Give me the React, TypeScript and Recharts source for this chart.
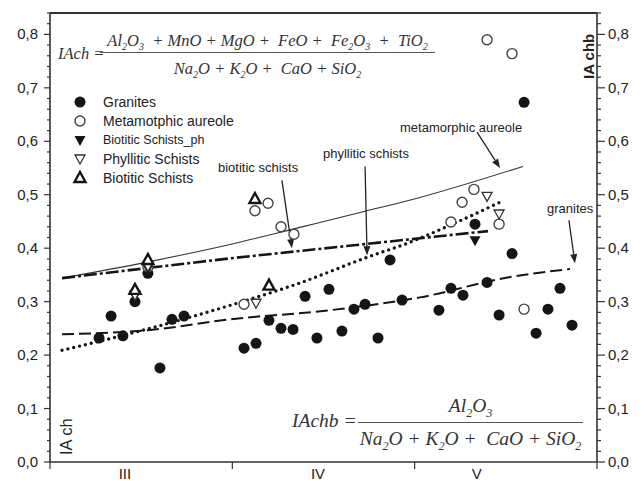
import React from "react"
import {
  ComposedChart,
  Scatter,
  Line,
  XAxis,
  YAxis,
  ReferenceLine,
} from "recharts"

// x: sample position, 0–10 = III, 10–20 = IV, 20–30 = V
const granites = [
  { x: 2.69, y: 0.232 }, { x: 3.35, y: 0.273 }, { x: 4.0, y: 0.236 }, { x: 4.66, y: 0.3 },
  { x: 5.37, y: 0.353 }, { x: 6.03, y: 0.176 }, { x: 6.69, y: 0.267 }, { x: 7.35, y: 0.273 },
  { x: 10.64, y: 0.213 }, { x: 11.3, y: 0.222 }, { x: 12.01, y: 0.265 }, { x: 12.67, y: 0.25 },
  { x: 13.33, y: 0.248 }, { x: 13.99, y: 0.31 }, { x: 14.64, y: 0.232 }, { x: 15.3, y: 0.323 },
  { x: 16.01, y: 0.245 }, { x: 16.67, y: 0.286 }, { x: 17.28, y: 0.295 }, { x: 17.99, y: 0.232 },
  { x: 18.65, y: 0.378 }, { x: 19.31, y: 0.303 }, { x: 21.33, y: 0.284 }, { x: 21.99, y: 0.325 },
  { x: 22.65, y: 0.312 }, { x: 23.31, y: 0.445 }, { x: 23.97, y: 0.336 }, { x: 24.63, y: 0.275 },
  { x: 25.34, y: 0.39 }, { x: 26.0, y: 0.673 }, { x: 26.66, y: 0.241 }, { x: 27.31, y: 0.286 },
  { x: 27.97, y: 0.325 }, { x: 28.63, y: 0.256 },
]
const aureole = [
  { x: 5.37, y: 0.365 }, { x: 10.64, y: 0.295 }, { x: 11.24, y: 0.47 }, { x: 11.96, y: 0.484 },
  { x: 12.67, y: 0.44 }, { x: 13.38, y: 0.426 }, { x: 21.99, y: 0.449 }, { x: 22.6, y: 0.486 },
  { x: 23.25, y: 0.51 }, { x: 24.63, y: 0.445 }, { x: 23.97, y: 0.79 }, { x: 25.34, y: 0.764 },
  { x: 26.0, y: 0.286 },
]
const schistsPh = [
  { x: 4.66, y: 0.31 }, { x: 5.37, y: 0.362 }, { x: 23.31, y: 0.415 },
]
const phyllitic = [
  { x: 4.66, y: 0.312 }, { x: 5.37, y: 0.366 }, { x: 11.3, y: 0.297 },
  { x: 23.97, y: 0.497 }, { x: 24.63, y: 0.464 },
]
const biotitic = [
  { x: 4.66, y: 0.322 }, { x: 5.37, y: 0.378 }, { x: 11.24, y: 0.492 }, { x: 12.01, y: 0.33 },
]

// trend lines
const aureoleTrend = [
  { x: 0.66, y: 0.344 }, { x: 5.32, y: 0.374 }, { x: 9.87, y: 0.407 }, { x: 13.71, y: 0.439 },
  { x: 17.28, y: 0.469 }, { x: 20.29, y: 0.495 }, { x: 25.94, y: 0.553 },
]
const biotiticTrend = [
  { x: 0.66, y: 0.344 }, { x: 9.87, y: 0.381 }, { x: 24.02, y: 0.432 },
]
const phylliticTrend = [
  { x: 0.66, y: 0.209 }, { x: 5.48, y: 0.25 }, { x: 9.87, y: 0.293 }, { x: 13.71, y: 0.335 },
  { x: 17.39, y: 0.383 }, { x: 19.74, y: 0.411 }, { x: 21.94, y: 0.443 }, { x: 24.68, y: 0.486 },
]
const graniteTrend = [
  { x: 0.66, y: 0.239 }, { x: 5.48, y: 0.247 }, { x: 9.87, y: 0.267 }, { x: 15.36, y: 0.284 },
  { x: 20.29, y: 0.308 }, { x: 25.23, y: 0.346 }, { x: 28.52, y: 0.361 },
]

const groupTicks = [4.11, 14.7, 23.4]
const groupLabels = ["III", "IV", "V"]

const arrows = [
  { from: { x: 23.42, y: 0.617 }, to: { x: 24.68, y: 0.55 } },
  { from: { x: 17.28, y: 0.553 }, to: { x: 17.39, y: 0.387 } },
  { from: { x: 12.72, y: 0.527 }, to: { x: 13.27, y: 0.4 } },
  { from: { x: 28.46, y: 0.452 }, to: { x: 28.79, y: 0.372 } },
]

const X_MAX = 30
const Y_MAX = 0.84
const yTicks: number[] = []
for (let i = 0; i <= 42; i++) yTicks.push(Math.round(i * 2) / 100)

const INK = "#151515"
const AXIS = "#333"

const isMajorY = (v: number) => Math.abs(v * 10 - Math.round(v * 10)) < 1e-6
const fmt = (v: number) => v.toFixed(1).replace(".", ",")

const LeftTick = (props: any) => {
  const { x, y, payload } = props
  const major = isMajorY(payload.value)
  return (
    <g>
      <line x1={x - (major ? 6 : 3)} x2={x} y1={y} y2={y} stroke={AXIS} strokeWidth={1.2} />
      {major && (
        <text x={x - 12} y={y} dy={5} textAnchor="end" fontSize={15} fill="#222">
          {fmt(payload.value)}
        </text>
      )}
    </g>
  )
}

const RightTick = (props: any) => {
  const { x, y, payload } = props
  const major = isMajorY(payload.value)
  return (
    <g>
      <line x1={x} x2={x + (major ? 8 : 4)} y1={y} y2={y} stroke={AXIS} strokeWidth={1.2} />
      {major && (
        <text x={x + 11} y={y} dy={5} textAnchor="start" fontSize={15} fill="#222">
          {fmt(payload.value)}
        </text>
      )}
    </g>
  )
}

const BottomTick = (props: any) => {
  const { x, y, payload } = props
  const gi = groupTicks.indexOf(payload.value)
  if (gi >= 0) {
    return (
      <text x={x} y={y + 17} textAnchor="middle" fontSize={15} fill="#222">
        {groupLabels[gi]}
      </text>
    )
  }
  return <line x1={x} x2={x} y1={y} y2={y + 7} stroke={AXIS} strokeWidth={1.2} />
}

const FilledCircle = (p: any) => <circle cx={p.cx} cy={p.cy} r={5.5} fill={INK} />
const OpenCircle = (p: any) => (
  <circle cx={p.cx} cy={p.cy} r={5} fill="#fff" stroke="#444" strokeWidth={1.4} />
)
const FilledDown = (p: any) => (
  <path d={`M${p.cx - 5.5},${p.cy - 4}L${p.cx + 5.5},${p.cy - 4}L${p.cx},${p.cy + 6}Z`} fill={INK} />
)
const OpenDown = (p: any) => (
  <path
    d={`M${p.cx - 5},${p.cy - 4}L${p.cx + 5},${p.cy - 4}L${p.cx},${p.cy + 5}Z`}
    fill="#fff"
    stroke="#333"
    strokeWidth={1.3}
  />
)
const OpenUp = (p: any) => (
  <path
    d={`M${p.cx},${p.cy - 6}L${p.cx + 5.5},${p.cy + 4}L${p.cx - 5.5},${p.cy + 4}Z`}
    fill="#fff"
    stroke={INK}
    strokeWidth={2.4}
  />
)
const Nothing = () => <g />

const ArrowShape = (props: any) => {
  const { x1, y1, x2, y2 } = props
  const ang = Math.atan2(y2 - y1, x2 - x1)
  const L = 9
  const W = 3.5
  const bx = x2 - L * Math.cos(ang)
  const by = y2 - L * Math.sin(ang)
  const px = -Math.sin(ang) * W
  const py = Math.cos(ang) * W
  return (
    <g>
      <line x1={x1} y1={y1} x2={bx} y2={by} stroke="#222" strokeWidth={1.3} />
      <path d={`M${x2},${y2}L${bx + px},${by + py}L${bx - px},${by - py}Z`} fill="#222" />
    </g>
  )
}

const serif = (size: number): React.CSSProperties => ({
  fontFamily: "'Liberation Serif', 'Times New Roman', serif",
  fontStyle: "italic",
  fontSize: size,
  color: "#333",
  lineHeight: `${Math.round(size + 2)}px`,
  whiteSpace: "pre",
})
const Sub = ({ children, s = 10 }: { children: React.ReactNode; s?: number }) => (
  <span style={{ fontSize: s, position: "relative", top: s * 0.4 }}>{children}</span>
)

const legendRows = [
  { name: "Granites", shape: "fc", size: 14 },
  { name: "Metamotphic aureole", shape: "oc", size: 14 },
  { name: "Biotitic Schists_ph", shape: "fd", size: 12.5 },
  { name: "Phyllitic Schists", shape: "od", size: 14 },
  { name: "Biotitic Schists", shape: "ou", size: 14 },
]

const LegendMarker = ({ shape }: { shape: string }) => {
  const p = { cx: 10, cy: 9 }
  return (
    <svg width={20} height={18}>
      {shape === "fc" && <FilledCircle {...p} />}
      {shape === "oc" && <OpenCircle {...p} />}
      {shape === "fd" && <FilledDown {...p} />}
      {shape === "od" && <OpenDown {...p} />}
      {shape === "ou" && <OpenUp {...p} />}
    </svg>
  )
}

const abs = (left: number, top: number, extra: React.CSSProperties = {}): React.CSSProperties => ({
  position: "absolute",
  left,
  top,
  ...extra,
})

export default function App() {
  return (
    <div
      style={{
        position: "absolute",
        left: 0,
        top: 0,
        width: 644,
        height: 481,
        background: "#fff",
        fontFamily: "'Liberation Sans', Arial, sans-serif",
        overflow: "hidden",
      }}
    >
      <ComposedChart width={644} height={481} margin={{ top: 13, right: 0, bottom: 0, left: 0 }}>
        <XAxis
          xAxisId="b"
          dataKey="x"
          type="number"
          domain={[0, X_MAX]}
          ticks={[0, 4.11, 10, 14.7, 20, 23.4, 30]}
          interval={0}
          height={19}
          tickSize={0}
          tickMargin={0}
          tick={<BottomTick />}
          axisLine={{ stroke: AXIS, strokeWidth: 1.6 }}
          tickLine={false}
        />
        <YAxis
          yAxisId="l"
          dataKey="y"
          type="number"
          domain={[0, Y_MAX]}
          ticks={yTicks}
          interval={0}
          width={50}
          tickSize={0}
          tickMargin={0}
          tick={<LeftTick />}
          tickLine={false}
          axisLine={{ stroke: AXIS, strokeWidth: 1.6 }}
        />
        <YAxis
          yAxisId="r"
          dataKey="y"
          orientation="right"
          type="number"
          domain={[0, Y_MAX]}
          ticks={yTicks}
          interval={0}
          width={47}
          tickSize={0}
          tickMargin={0}
          tick={<RightTick />}
          tickLine={false}
          axisLine={{ stroke: AXIS, strokeWidth: 1.6 }}
        />

        {/* invisible series so the mirror axis on the right gets its scale */}
        <Scatter xAxisId="b" yAxisId="r" data={granites} shape={<Nothing />} legendType="none" isAnimationActive={false} />

        <Line
          xAxisId="b" yAxisId="l" data={aureoleTrend} dataKey="y" type="monotone"
          stroke="#333" strokeWidth={1.1} dot={false} isAnimationActive={false}
        />
        <Line
          xAxisId="b" yAxisId="l" data={biotiticTrend} dataKey="y" type="linear"
          stroke={INK} strokeWidth={2.6} strokeDasharray="13 3 3 3" dot={false} isAnimationActive={false}
        />
        <Line
          xAxisId="b" yAxisId="l" data={phylliticTrend} dataKey="y" type="monotone"
          stroke={INK} strokeWidth={3.4} strokeDasharray="0 6" strokeLinecap="round" dot={false} isAnimationActive={false}
        />
        <Line
          xAxisId="b" yAxisId="l" data={graniteTrend} dataKey="y" type="monotone"
          stroke={INK} strokeWidth={2} strokeDasharray="12 5" dot={false} isAnimationActive={false}
        />

        {arrows.map((a, i) => (
          <ReferenceLine
            key={i}
            xAxisId="b"
            yAxisId="l"
            segment={[a.from, a.to]}
            shape={<ArrowShape />}
            ifOverflow="visible"
          />
        ))}

        <Scatter xAxisId="b" yAxisId="l" data={granites} shape={<FilledCircle />} isAnimationActive={false} />
        <Scatter xAxisId="b" yAxisId="l" data={aureole} shape={<OpenCircle />} isAnimationActive={false} />
        <Scatter xAxisId="b" yAxisId="l" data={schistsPh} shape={<FilledDown />} isAnimationActive={false} />
        <Scatter xAxisId="b" yAxisId="l" data={phyllitic} shape={<OpenDown />} isAnimationActive={false} />
        <Scatter xAxisId="b" yAxisId="l" data={biotitic} shape={<OpenUp />} isAnimationActive={false} />
      </ComposedChart>

      {/* top frame of the plot box */}
      <div style={abs(50, 12, { width: 547, height: 0, borderTop: `2px solid ${AXIS}` })} />

      {/* top formula */}
      <div style={abs(58, 44, serif(16.5))}>IAch =</div>
      <div style={abs(100, 31, { ...serif(16.5), width: 335, textAlign: "center" })}>
        Al<Sub>2</Sub>O<Sub>3</Sub>  + MnO + MgO +  FeO +  Fe<Sub>2</Sub>O<Sub>3</Sub>  +  TiO<Sub>2</Sub>
      </div>
      <div style={abs(100, 52, { width: 335, height: 0, borderTop: "1px solid #555" })} />
      <div style={abs(100, 59, { ...serif(16.5), width: 335, textAlign: "center" })}>
        Na<Sub>2</Sub>O + K<Sub>2</Sub>O +  CaO + SiO<Sub>2</Sub>
      </div>

      {/* bottom formula */}
      <div style={abs(292, 410, serif(19.5))}>IAchb =</div>
      <div style={abs(358, 395, { ...serif(19.5), width: 225, textAlign: "center" })}>
        Al<Sub s={12}>2</Sub>O<Sub s={12}>3</Sub>
      </div>
      <div style={abs(358, 422, { width: 225, height: 0, borderTop: "1px solid #555" })} />
      <div style={abs(358, 428, { ...serif(19.5), width: 225, textAlign: "center" })}>
        Na<Sub s={12}>2</Sub>O + K<Sub s={12}>2</Sub>O +  CaO + SiO<Sub s={12}>2</Sub>
      </div>

      {/* legend */}
      {legendRows.map((r, i) => (
        <div
          key={r.name}
          style={abs(70, 93 + i * 19, { display: "flex", alignItems: "center", height: 18 })}
        >
          <LegendMarker shape={r.shape} />
          <span style={{ marginLeft: 13, fontSize: r.size, color: "#222", whiteSpace: "nowrap" }}>
            {r.name}
          </span>
        </div>
      ))}

      {/* annotations */}
      <div style={abs(400, 120, { fontSize: 13, color: "#222", whiteSpace: "nowrap" })}>metamorphic aureole</div>
      <div style={abs(323, 146, { fontSize: 13, color: "#222", whiteSpace: "nowrap" })}>phyllitic schists</div>
      <div style={abs(218, 160, { fontSize: 13, color: "#222", whiteSpace: "nowrap" })}>biotitic schists</div>
      <div style={abs(547, 201, { fontSize: 13, color: "#222", whiteSpace: "nowrap" })}>granites</div>

      {/* axis titles */}
      <div
        style={abs(57, 455, {
          fontSize: 16.5,
          color: "#222",
          whiteSpace: "nowrap",
          transform: "rotate(-90deg)",
          transformOrigin: "0 0",
        })}
      >
        IA ch
      </div>
      <div
        style={abs(580, 79, {
          fontSize: 15,
          fontWeight: "bold",
          color: "#222",
          whiteSpace: "nowrap",
          transform: "rotate(-90deg)",
          transformOrigin: "0 0",
        })}
      >
        IA chb
      </div>
    </div>
  )
}
